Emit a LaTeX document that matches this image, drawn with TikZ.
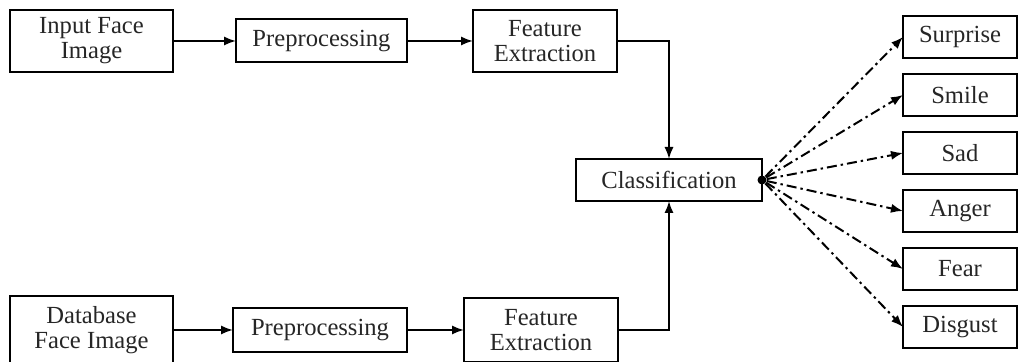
\documentclass[tikz,border=0pt]{standalone}
\usepackage{fontspec}
\setmainfont{Liberation Serif}
\usetikzlibrary{arrows.meta}
\begin{document}
\begin{tikzpicture}[x=0.5pt, y=-0.5pt,
    box/.style={draw, line width=1pt, inner sep=0pt, outer sep=0pt, align=center,
        text=black!85, font=\fontsize{12.3}{12.5}\selectfont},
    emo/.style={box, minimum width=57pt, minimum height=21pt},
    arr/.style={line width=1pt, -{Latex[length=6pt, width=4.6pt]}},
    dda/.style={arr, dash pattern=on 5pt off 2pt on 1.2pt off 2pt},
    hubdot/.style={circle, fill, inner sep=0pt, minimum size=4.5pt}]
        \useasboundingbox (0, 0) rectangle (1019, 362);

        \node[box, minimum width=81.5pt, minimum height=31pt] (in1) at (91.5, 41) {Input Face\\Image};
        \node[box, minimum width=85.5pt, minimum height=21.5pt] (pre1) at (321.5, 41) {Preprocessing};
        \node[box, minimum width=72pt, minimum height=31pt] (fe1) at (545, 41) {Feature\\Extraction};

        \node[box, minimum width=81.5pt, minimum height=34pt] (in2) at (91.5, 330) {Database\\Face Image};
        \node[box, minimum width=87pt, minimum height=22pt] (pre2) at (320, 330) {Preprocessing};
        \node[box, minimum width=77pt, minimum height=32pt] (fe2) at (541, 330) {Feature\\Extraction};

        \node[box, minimum width=93pt, minimum height=21pt] (cls) at (669, 180) {Classification};
        \node[hubdot] (hub) at (cls.east) {};

        \draw[arr] (in1) -- (pre1);
        \draw[arr] (pre1) -- (fe1);
        \draw[arr] (in2) -- (pre2);
        \draw[arr] (pre2) -- (fe2);
        \draw[arr] (fe1.east) -| (cls.north);
        \draw[arr] (fe2.east) -| (cls.south);

        \foreach \name/\lbl [count=\i] in {sur/Surprise, smi/Smile, sad/Sad, ang/Anger, fea/Fear, dis/Disgust} {
            \node[emo] (\name) at (960, {37 + 58*(\i-1)}) {\lbl};
            \draw[dda] (hub) -- (\name.west);
        }
    \end{tikzpicture}
\end{document}
